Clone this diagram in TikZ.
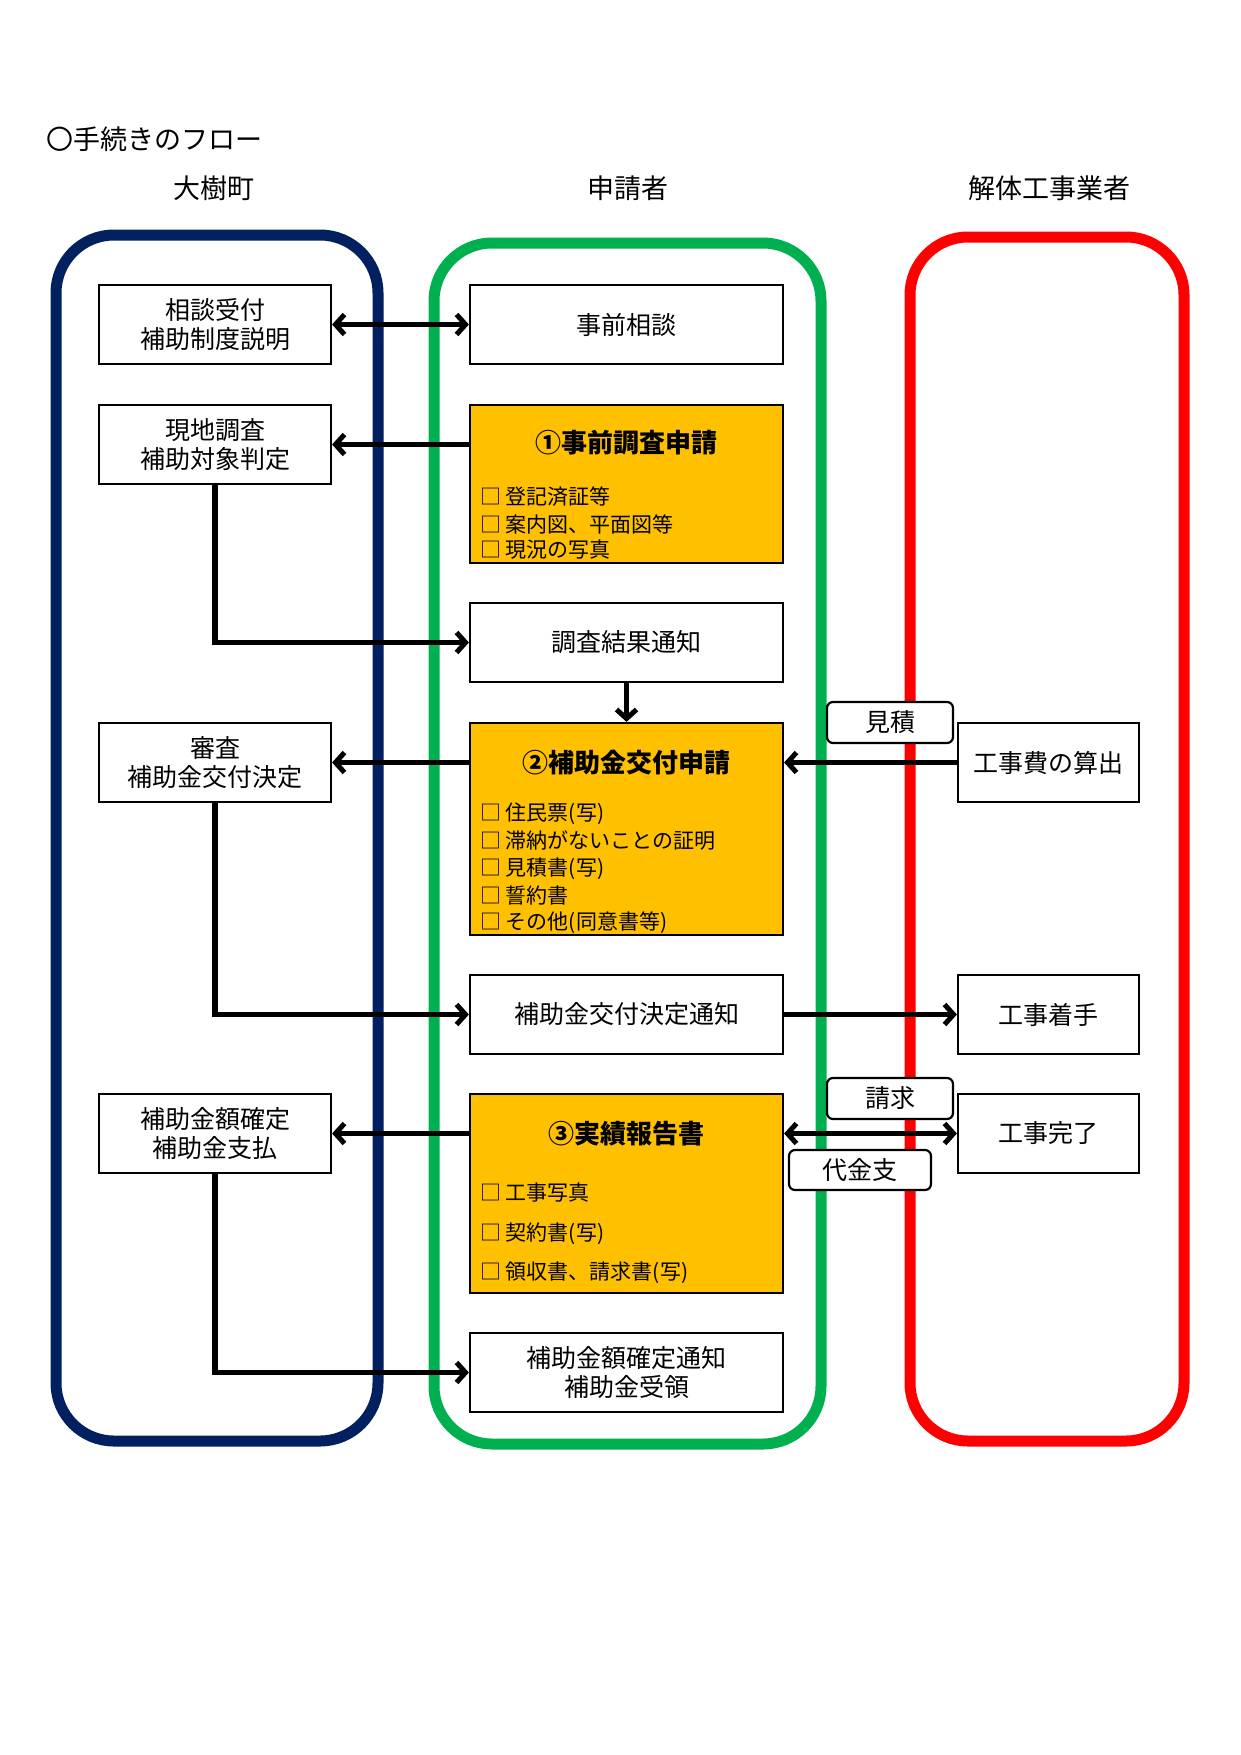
\documentclass[tikz,border=0pt]{standalone}
\usepackage{fontspec}
\setmainfont{Noto Sans CJK JP}
\usetikzlibrary{arrows.meta}
\begin{document}
\begin{tikzpicture}[x=1pt,y=-1pt,
 box/.style={draw=black,line width=2.2pt,fill=white,align=center,font=\fontsize{25}{29}\selectfont,inner sep=0pt},
 lb/.style={box,minimum width=232pt,minimum height=79pt},
 mb/.style={box,minimum width=313pt,minimum height=79pt},
 rb/.style={box,minimum width=181pt,minimum height=79pt},
 ob/.style={draw=black,line width=2.2pt,fill=orange!0!white,fill={rgb,255:red,255;green,192;blue,0},minimum width=313pt,inner sep=0pt},
 tag/.style={draw=black,line width=2.2pt,fill=white,rounded corners=6pt,inner sep=0pt,font=\fontsize{25}{29}\selectfont},
 ttl/.style={font=\fontsize{26}{30}\selectfont\bfseries},
 item/.style={anchor=west,font=\fontsize{21}{24}\selectfont,inner sep=0pt},
 ar/.style={line width=5.5pt,-{Straight Barb[length=9pt,width=20pt,line width=5pt]}},
 lane/.style={line width=11pt,rounded corners=58pt}]
\useasboundingbox (0,0) rectangle (1241,1755);
\node[anchor=west,font=\fontsize{27}{30}\selectfont] (t) at (43,139) {〇手続きのフロー};
\node[font=\fontsize{27}{30}\selectfont] (h1) at (214,188) {大樹町};
\node[font=\fontsize{27}{30}\selectfont] (h2) at (628,188) {申請者};
\node[font=\fontsize{27}{30}\selectfont] (h3) at (1049,188) {解体工事業者};
\draw[lane,draw={rgb,255:red,0;green,32;blue,96}] (56,235) rectangle (378,1441);
\draw[lane,draw={rgb,255:red,0;green,176;blue,80}] (434,243) rectangle (821,1444);
\draw[lane,draw={rgb,255:red,255;green,0;blue,0}] (910,237) rectangle (1184,1441);
% left
\node[lb] (l1) at (215,324.5) {相談受付\\補助制度説明};
\node[lb] (l2) at (215,444.5) {現地調査\\補助対象判定};
\node[lb] (l3) at (215,762.5) {審査\\補助金交付決定};
\node[lb] (l4) at (215,1133.5) {補助金額確定\\補助金支払};
% middle
\node[mb] (a) at (626.5,324.5) {事前相談};
\node[ob,minimum height=158pt] (b) at (626.5,484) {};
\node[ttl] at (626.5,443) {①事前調査申請};
\node[item] at (480,497) {□ 登記済証等};
\node[item] at (480,524) {□ 案内図、平面図等};
\node[item] at (480,550) {□ 現況の写真};
\node[mb] (c) at (626.5,642.5) {調査結果通知};
\node[ob,minimum height=212pt] (d) at (626.5,829) {};
\node[ttl] at (626.5,763) {②補助金交付申請};
\node[item] at (480,814) {□ 住民票(写)};
\node[item] at (480,841) {□ 滞納がないことの証明};
\node[item] at (480,869) {□ 見積書(写)};
\node[item] at (480,896) {□ 誓約書};
\node[item] at (480,923) {□ その他(同意書等)};
\node[mb] (e) at (626.5,1014.5) {補助金交付決定通知};
\node[ob,minimum height=199pt] (f) at (626.5,1193.5) {};
\node[ttl] at (626.5,1134) {③実績報告書};
\node[item] at (480,1193) {□ 工事写真};
\node[item] at (480,1234) {□ 契約書(写)};
\node[item] at (480,1273) {□ 領収書、請求書(写)};
\node[mb] (g) at (626.5,1372.5) {補助金額確定通知\\補助金受領};
% right
\node[rb] (r1) at (1048.5,762.5) {工事費の算出};
\node[rb] (r2) at (1048.5,1014.5) {工事着手};
\node[rb] (r3) at (1048.5,1133.5) {工事完了};
% tags
\node[tag,minimum width=126pt,minimum height=41pt] (k1) at (890,722.5) {見積};
\node[tag,minimum width=126pt,minimum height=41pt] (k2) at (890,1098.5) {請求};
\node[tag,minimum width=142pt,minimum height=40pt] (k3) at (860,1170) {代金支};
% connectors
\draw[line width=5.5pt,{Straight Barb[length=9pt,width=20pt,line width=5pt]}-{Straight Barb[length=9pt,width=20pt,line width=5pt]}] (l1) -- (a);
\draw[ar] (b.west|-l2) -- (l2);
\draw[line width=5.5pt,-{Straight Barb[length=9pt,width=20pt,line width=5pt]}] (l2.south) -- (l2.south|-c) -- (c);
\draw[ar] (c) -- (d);
\draw[ar] (d.west|-l3) -- (l3);
\draw[ar] (r1) -- (r1-|d.east);
\draw[ar] (l3.south) -- (l3.south|-e) -- (e);
\draw[ar] (e) -- (r2);
\draw[ar] (f.west|-l4) -- (l4);
\draw[line width=5.5pt,{Straight Barb[length=9pt,width=20pt,line width=5pt]}-{Straight Barb[length=9pt,width=20pt,line width=5pt]}] (f.east|-r3) -- (r3);
\draw[ar] (l4.south) -- (l4.south|-g) -- (g);
\end{tikzpicture}
\end{document}
